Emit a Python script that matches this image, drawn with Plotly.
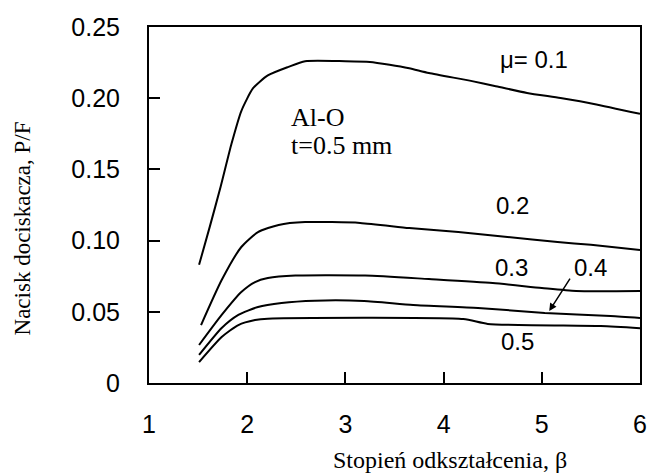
import plotly.graph_objects as go

# beta values and P/F values for each friction coefficient
mu01_x = [1.51, 1.62, 1.73, 1.84, 1.94, 2.06, 2.21, 2.42, 2.59, 3.0, 3.25, 3.45, 3.65, 3.85, 4.29, 4.52, 4.85, 5.19, 5.53, 6.0]
mu01_y = [0.083, 0.110, 0.138, 0.168, 0.191, 0.207, 0.216, 0.222, 0.226, 0.226, 0.2255, 0.2235, 0.221, 0.2177, 0.212, 0.2086, 0.2037, 0.2001, 0.196, 0.189]

mu02_x = [1.53, 1.74, 1.94, 2.11, 2.32, 2.59, 3.15, 3.65, 4.15, 4.65, 5.16, 5.5, 6.0]
mu02_y = [0.0407, 0.0723, 0.0955, 0.106, 0.111, 0.113, 0.1124, 0.1088, 0.106, 0.1025, 0.099, 0.097, 0.0934]

mu03_x = [1.51, 1.74, 1.94, 2.08, 2.21, 2.49, 3.2, 3.85, 4.5, 5.0, 5.35, 6.0]
mu03_y = [0.0267, 0.0478, 0.0639, 0.0709, 0.0737, 0.0755, 0.0755, 0.073, 0.0702, 0.0667, 0.0646, 0.0646]

mu04_x = [1.51, 1.74, 1.91, 2.11, 2.35, 2.69, 3.19, 3.69, 4.35, 5.03, 5.70, 6.0]
mu04_y = [0.0197, 0.0386, 0.0478, 0.0534, 0.0562, 0.0578, 0.0576, 0.0548, 0.0527, 0.0492, 0.047, 0.0456]

mu05_x = [1.51, 1.74, 1.91, 2.08, 2.21, 4.2, 4.45, 5.6, 6.0]
mu05_y = [0.0147, 0.0323, 0.0407, 0.0442, 0.0452, 0.0449, 0.0415, 0.040, 0.0385]

x_ticks = [1, 2, 3, 4, 5, 6]
y_ticks = [0, 0.05, 0.10, 0.15, 0.20, 0.25]
y_ticktext = ["0", "0.05", "0.10", "0.15", "0.20", "0.25"]

curves = [(mu01_x, mu01_y), (mu02_x, mu02_y), (mu03_x, mu03_y), (mu04_x, mu04_y), (mu05_x, mu05_y)]

fig = go.Figure()
for cx, cy in curves:
    fig.add_trace(go.Scatter(x=cx, y=cy, mode="lines",
                             line=dict(color="black", width=2, shape="spline", smoothing=0.6),
                             showlegend=False, hoverinfo="skip"))

tick_font = dict(family="Liberation Sans, Arial, sans-serif", size=25, color="black")
serif = "Liberation Serif, Times New Roman, serif"

fig.update_layout(
    width=653, height=475,
    margin=dict(l=149, r=6, t=27, b=92),
    paper_bgcolor="white", plot_bgcolor="white",
    showlegend=False,
    xaxis=dict(range=[1, 6], tickvals=x_ticks, ticktext=[str(v) for v in x_ticks],
               ticks="inside", ticklen=11, tickwidth=2, tickcolor="black",
               showline=True, linecolor="black", linewidth=2, mirror=True,
               showgrid=False, zeroline=False, tickfont=tick_font,
               ticklabelstandoff=18),
    yaxis=dict(range=[0, 0.25], tickvals=y_ticks, ticktext=y_ticktext,
               ticks="inside", ticklen=11, tickwidth=2, tickcolor="black",
               showline=True, linecolor="black", linewidth=2, mirror=True,
               showgrid=False, zeroline=False, tickfont=tick_font,
               ticklabelstandoff=22),
)

lab_font = dict(family="Liberation Sans, Arial, sans-serif", size=24, color="black")
ann = [
    dict(x=4.92, y=0.2275, text="μ= 0.1", font=lab_font),
    dict(x=4.705, y=0.125, text="0.2", font=lab_font),
    dict(x=4.695, y=0.0808, text="0.3", font=lab_font),
    dict(x=5.498, y=0.0808, text="0.4", font=lab_font),
    dict(x=4.755, y=0.0288, text="0.5", font=lab_font),
    dict(x=2.43, y=0.1868, text="Al-O", xanchor="left",
         font=dict(family=serif, size=26, color="black")),
    dict(x=2.43, y=0.167, text="t=0.5 mm", xanchor="left",
         font=dict(family=serif, size=26, color="black")),
]
for a in ann:
    fig.add_annotation(xref="x", yref="y", showarrow=False, **a)

# arrow pointing to the 0.4 curve
fig.add_annotation(xref="x", yref="y", x=5.076, y=0.0506, ax=5.297, ay=0.0744,
                   axref="x", ayref="y", text="", showarrow=True,
                   arrowhead=2, arrowsize=1, arrowwidth=1.5, arrowcolor="black")

# axis titles
fig.add_annotation(xref="paper", yref="paper", x=0.614, y=-0.216, xanchor="center", yanchor="middle",
                   text="Stopień odkształcenia, β",
                   showarrow=False, font=dict(family=serif, size=24, color="black"))
fig.add_annotation(xref="paper", yref="paper", x=-0.258, y=0.435, xanchor="center", yanchor="middle",
                   text="Nacisk dociskacza, P/F",
                   showarrow=False, textangle=-90, font=dict(family=serif, size=23, color="black"))

fig.write_html("out.html")
